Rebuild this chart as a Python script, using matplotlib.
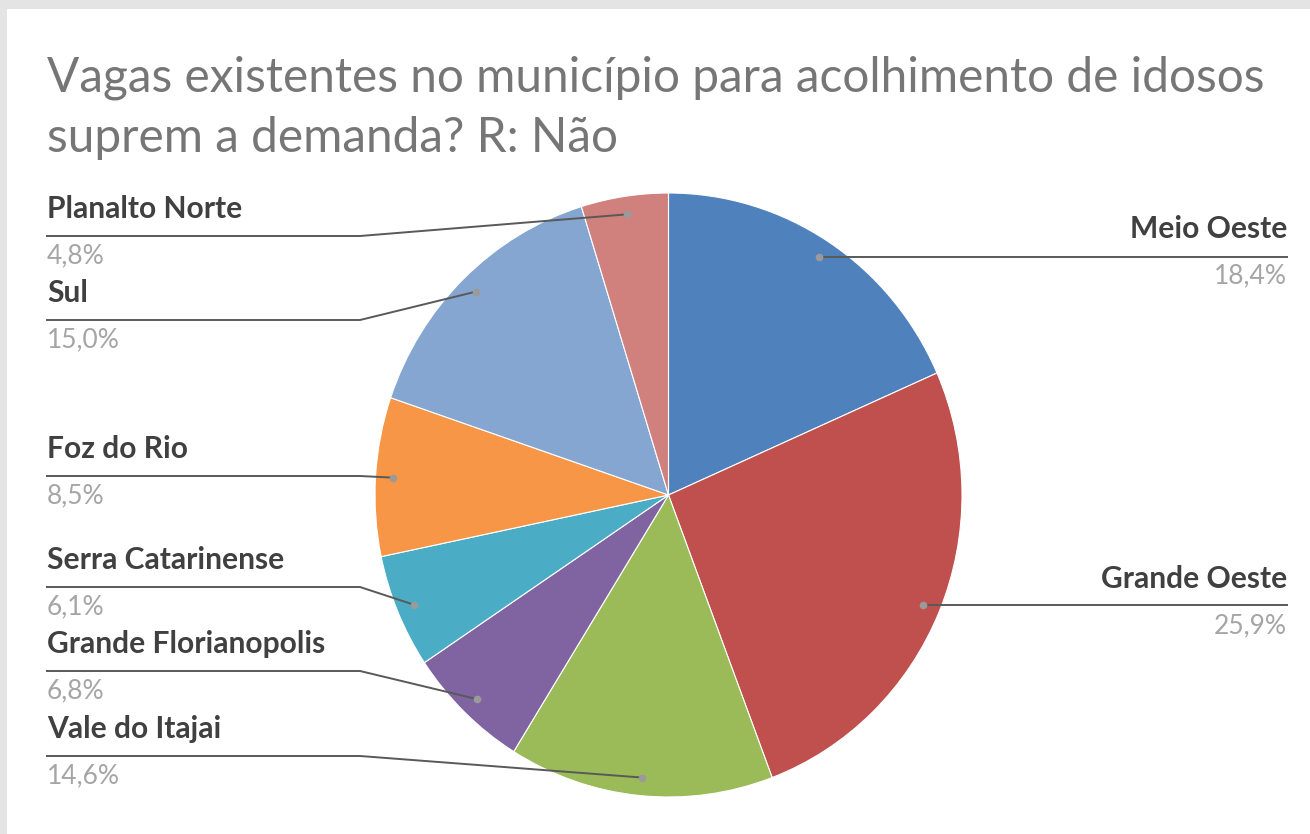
import matplotlib
matplotlib.use("Agg")
import matplotlib.pyplot as plt
import numpy as np
from matplotlib.patches import Rectangle

# ---- data ----
regions = ["Meio Oeste", "Grande Oeste", "Vale do Itajai", "Grande Florianopolis",
           "Serra Catarinense", "Foz do Rio", "Sul", "Planalto Norte"]
shares = [18.4, 25.9, 14.6, 6.8, 6.1, 8.5, 15.0, 4.8]
pct_labels = ["18,4%", "25,9%", "14,6%", "6,8%", "6,1%", "8,5%", "15,0%", "4,8%"]
colors = ["#4F81BD", "#C0504D", "#9BBB59", "#8064A2",
          "#4BACC6", "#F79646", "#84A6D1", "#D0817D"]
title_lines = ["Vagas existentes no município para acolhimento de idosos",
               "suprem a demanda? R: Não"]

# ---- layout (pixels) ----
W, H = 1310, 834
CX, CY, RX, RY = 668.5, 495.0, 293.5, 302.0
label_line_y = [256, 606, 756, 671, 587, 476, 320, 236]
label_side = ["R", "R", "L", "L", "L", "L", "L", "L"]
LEFT_X, RIGHT_X, ELBOW_X = 47, 1287, 360

fig = plt.figure(figsize=(W / 100, H / 100), dpi=100)
fig.patch.set_facecolor("white")
fig.patches.append(Rectangle((0, 1 - 9 / H), 1, 9 / H, transform=fig.transFigure,
                             facecolor="#e4e4e4", edgecolor="none", zorder=0))
fig.patches.append(Rectangle((0, 0), 7 / W, 1, transform=fig.transFigure,
                             facecolor="#e4e4e4", edgecolor="none", zorder=0))

ax = fig.add_axes([0, 0, 1, 1])
ax.axis("off")
ax.patch.set_alpha(0)


def px(x, y):
    return (x - CX) / RX, (CY - y) / RY


wedges, _ = ax.pie(shares, colors=colors, startangle=90, counterclock=False,
                   radius=1.0, center=(0, 0),
                   wedgeprops=dict(edgecolor="white", linewidth=0.8))
ax.set_xlim((0 - CX) / RX, (W - CX) / RX)
ax.set_ylim((CY - H) / RY, CY / RY)
ax.set_aspect("auto")

fig.canvas.draw()
renderer = fig.canvas.get_renderer()


def fitsize(text, target_px, **kw):
    t = fig.text(0, 0, text, fontsize=20, **kw)
    w = t.get_window_extent(renderer).width
    t.remove()
    return 20 * target_px / w


NAME_C, PCT_C, LINE_C, DOT_C = "#404040", "#a5a5a5", "#595959", "#9a9a9a"
FONT = "Lato"
name_fs = fitsize("Grande Florianopolis", 278, family=FONT, fontweight="bold")
pct_fs = fitsize("14,6%", 73, family=FONT)
title_fs = fitsize(title_lines[0], 1265 - 47, family=FONT)

for i, (name, pct) in enumerate(zip(regions, pct_labels)):
    w = wedges[i]
    mid = np.deg2rad((w.theta1 + w.theta2) / 2)
    dx, dy = 0.94 * np.cos(mid), 0.94 * np.sin(mid)
    ly = label_line_y[i]
    _, ly_d = px(0, ly)
    if label_side[i] == "R":
        x0, _ = px(RIGHT_X, 0)
        ax.plot([dx, x0], [dy, dy], color=LINE_C, lw=1.4, zorder=3)
        xt, ha = x0, "right"
    else:
        xl, _ = px(LEFT_X, 0)
        xe, _ = px(ELBOW_X, 0)
        ax.plot([xl, xe, dx], [ly_d, ly_d, dy], color=LINE_C, lw=1.4, zorder=3)
        xt, ha = xl, "left"
    ax.text(xt, px(0, ly - 18)[1], name, ha=ha, va="baseline", color=NAME_C,
            fontsize=name_fs, fontweight="bold", family=FONT, zorder=4)
    ax.text(xt, px(0, ly + 27)[1], pct, ha=ha, va="baseline", color=PCT_C,
            fontsize=pct_fs, family=FONT, zorder=4)
    ax.plot([dx], [dy], "o", color=DOT_C, ms=5.5, mec="none", zorder=5)

fig.text(47 / W, 1 - 91 / H, title_lines[0], ha="left", va="baseline",
         fontsize=title_fs, color="#767676", family=FONT)
fig.text(47 / W, 1 - 152 / H, title_lines[1], ha="left", va="baseline",
         fontsize=title_fs, color="#767676", family=FONT)

fig.savefig("out.png", dpi=100, facecolor="white")
